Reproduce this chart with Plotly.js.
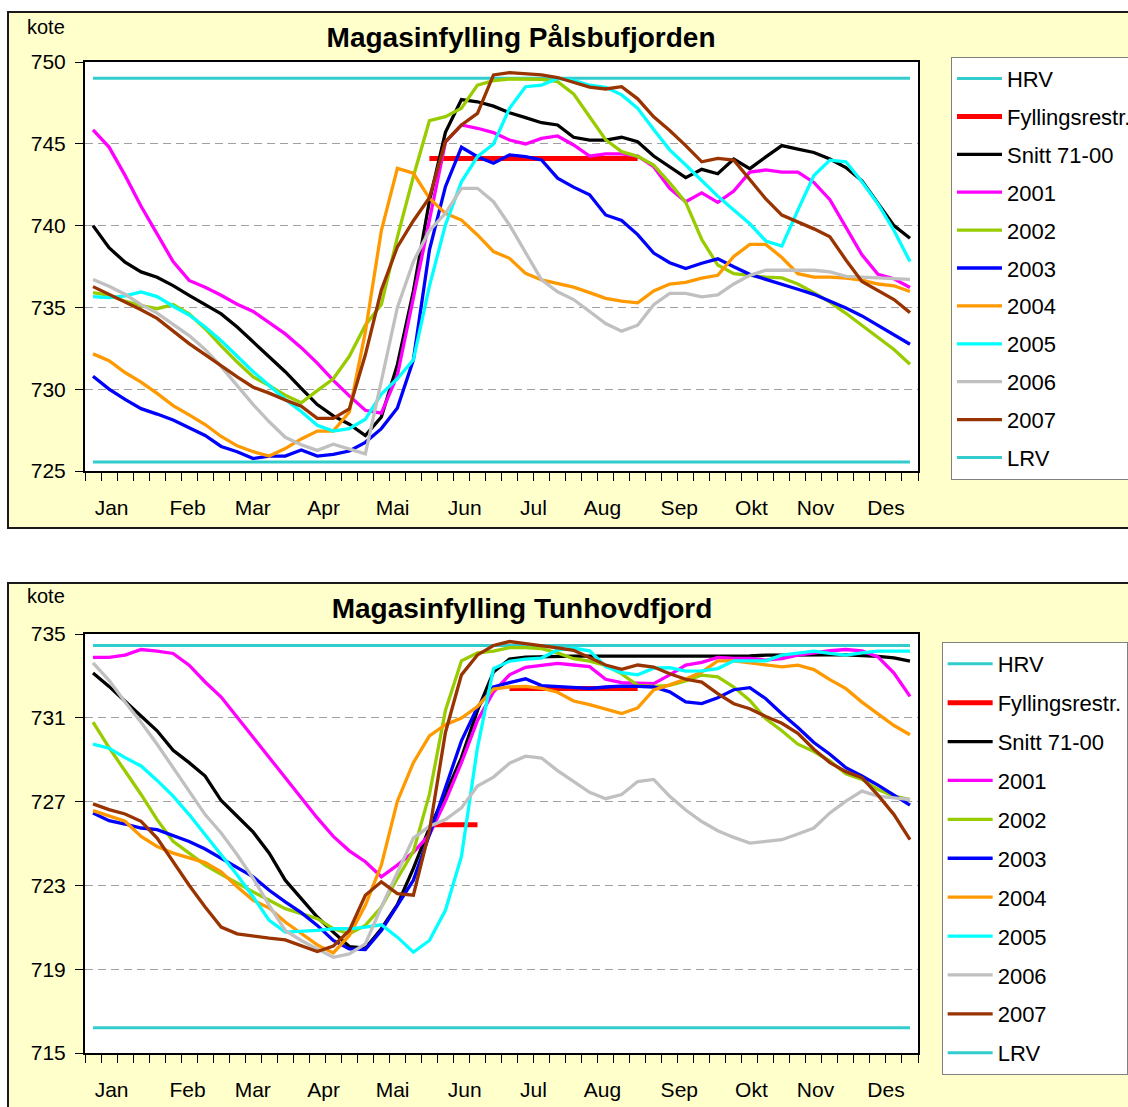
<!DOCTYPE html>
<html><head><meta charset="utf-8">
<script src="https://cdn.plot.ly/plotly-3.0.1.min.js"></script>
<style>
html,body{margin:0;padding:0;background:#fff;overflow:hidden;width:1128px;height:1107px;}
.box{position:absolute;left:7px;width:1200px;border:2px solid #1a1a1a;background:#FFFFCC;}
#c1{top:11px;height:514px;}
#c2{top:582px;height:530px;}
</style></head><body>
<div id="c1" class="box"></div>
<div id="c2" class="box"></div>
<script>
// ---------- shared ----------
const weeks = [1,2,3,4,5,6,7,8,9,10,11,12,13,14,15,16,17,18,19,20,21,22,23,24,25,26,
  27,28,29,30,31,32,33,34,35,36,37,38,39,40,41,42,43,44,45,46,47,48,49,50,51,52];
const monthNames = ['Jan','Feb','Mar','Apr','Mai','Jun','Jul','Aug','Sep','Okt','Nov','Des'];
const monthPos = [2.16, 6.9, 10.97, 15.4, 19.7, 24.2, 28.5, 32.8, 37.6, 42.1, 46.1, 50.5];
const seriesNames = ['HRV','Fyllingsrestr.','Snitt 71-00','2001','2002','2003','2004','2005','2006','2007','LRV'];
const seriesColors = ['#33CCCC','#FF0000','#000000','#FF00FF','#99CC00','#0000FF','#FF9900','#00FFFF','#C0C0C0','#993300','#33CCCC'];

// ---------- Pålsbufjorden ----------
const hrv1 = 749.0, lrv1 = 725.55;
const fyllWeeks1 = [22, 35];
const fyllLevel1 = [744.1, 744.1];
const snitt1 = [740.0,738.65,737.76,737.17,736.84,736.33,735.74,735.19,734.6,733.8,732.9,731.99,731.07,730.05,729.06,728.37,727.86,727.17,728.3,731.5,736.0,741.5,745.7,747.7,747.57,747.3,
  746.9,746.6,746.29,746.15,745.4,745.23,745.23,745.4,745.13,744.25,743.6,742.93,743.44,743.17,744.07,743.48,744.2,744.89,744.68,744.47,744.07,743.55,742.74,741.38,740.0,739.23];
const p2001 = [745.85,744.8,743.07,741.18,739.49,737.8,736.65,736.23,735.74,735.19,734.75,734.06,733.38,732.54,731.59,730.54,729.59,728.71,728.54,730.85,735.49,740.33,745.1,746.15,745.95,745.68,
  745.23,744.99,745.33,745.48,744.93,744.25,744.38,744.38,744.25,743.6,742.28,741.46,742.0,741.42,742.11,743.27,743.4,743.27,743.27,742.64,741.58,739.9,738.22,737.02,736.75,736.22];
const p2002 = [735.91,735.74,735.38,735.11,734.92,735.17,734.6,733.7,732.65,731.66,730.75,730.22,729.63,729.17,729.91,730.64,732.01,733.91,735.17,739.3,743.0,746.41,746.66,747.17,748.59,748.86,
  748.96,748.96,748.94,748.8,748.05,746.65,745.25,744.52,744.23,743.7,742.62,741.42,739.15,737.59,737.06,736.96,736.85,736.8,736.43,735.9,735.32,734.64,733.9,733.17,732.43,731.53];
const p2003 = [730.79,730.01,729.38,728.81,728.48,728.12,727.65,727.17,726.5,726.18,725.76,725.91,725.91,726.28,725.91,726.01,726.22,726.75,727.59,728.85,731.8,738.5,742.38,744.79,744.21,743.81,
  744.32,744.21,744.01,742.9,742.35,741.88,740.65,740.31,739.45,738.32,737.73,737.38,737.7,737.97,737.48,737.02,736.71,736.43,736.11,735.8,735.38,734.96,734.48,733.91,733.34,732.75];
const p2004 = [732.16,731.74,731.02,730.43,729.74,729.0,728.43,727.84,727.11,726.54,726.18,725.91,726.37,726.96,727.44,727.44,728.6,733.5,739.7,743.5,743.2,741.67,740.75,740.34,739.43,738.41,
  738.0,737.08,736.68,736.45,736.24,735.9,735.55,735.38,735.28,736.01,736.43,736.53,736.79,736.96,738.11,738.85,738.85,738.05,737.06,736.85,736.85,736.79,736.67,736.43,736.32,735.97];
const p2005 = [735.66,735.6,735.7,735.95,735.66,735.07,734.54,733.8,732.96,732.01,731.07,730.22,729.38,728.64,727.8,727.44,727.59,728.16,729.7,730.64,731.8,736.3,740.04,742.68,744.21,744.99,
  747.17,748.49,748.59,749.0,748.87,748.58,748.45,747.99,747.17,745.87,744.63,743.7,742.76,741.8,740.95,740.11,739.06,738.75,740.95,743.06,744.0,743.9,742.68,741.33,739.7,737.8];
const p2006 = [736.71,736.29,735.8,735.17,734.65,733.97,733.28,732.43,731.38,730.22,729.06,728.01,727.06,726.6,726.26,726.64,726.33,726.05,730.5,735.0,737.8,739.7,740.75,742.28,742.28,741.46,
  740.04,738.31,736.68,735.95,735.48,734.75,734.01,733.55,733.91,735.17,735.86,735.86,735.65,735.76,736.43,736.96,737.27,737.27,737.27,737.27,737.17,736.9,736.85,736.8,736.75,736.71];
const p2007 = [736.27,735.8,735.28,734.86,734.33,733.59,732.79,732.12,731.42,730.75,730.12,729.76,729.34,728.96,728.22,728.22,728.79,732.1,736.06,738.7,740.3,741.7,745.13,746.15,746.86,749.21,
  749.35,749.3,749.21,749.05,748.77,748.46,748.35,748.49,747.75,746.65,745.81,744.89,743.9,744.11,744.0,742.85,741.63,740.64,740.22,739.8,739.32,737.9,736.58,736.01,735.48,734.68];

// ---------- Tunhovdfjord ----------
const hrv2 = 734.45, lrv2 = 716.2;
const fyllWeeks2 = [22, 25, null, 27, 35];
const fyllLevel2 = [725.9, 725.9, null, 732.4, 732.4];
const snitt2 = [733.14,732.5,731.79,731.11,730.38,729.45,728.86,728.22,727.05,726.3,725.54,724.54,723.25,722.37,721.49,720.77,720.08,720.0,720.93,722.08,723.81,725.74,727.34,729.1,731.35,733.19,
  733.8,733.9,733.92,733.94,733.94,733.94,733.94,733.94,733.94,733.94,733.94,733.94,733.94,733.94,733.94,733.95,733.99,734.0,734.0,734.0,734.0,734.0,733.98,733.93,733.86,733.7];
const t2001 = [733.88,733.88,733.99,734.26,734.18,734.07,733.51,732.71,731.99,731.03,730.06,729.1,728.14,727.18,726.22,725.34,724.65,724.13,723.41,723.97,724.58,725.42,727.02,728.86,730.87,732.23,
  733.05,733.41,733.5,733.6,733.52,733.44,732.84,732.68,732.65,732.63,733.05,733.52,733.65,733.88,733.83,733.83,733.75,733.83,733.99,734.1,734.2,734.26,734.2,733.91,733.14,732.02];
const t2002 = [730.79,729.58,728.46,727.34,726.14,725.1,724.54,723.97,723.53,723.09,722.69,722.29,721.89,721.65,721.41,720.93,720.69,721.09,721.97,723.33,724.62,727.34,731.35,733.72,734.1,734.18,
  734.35,734.35,734.3,734.1,733.82,733.7,733.5,733.1,732.55,732.5,732.55,732.76,733.04,732.95,732.47,731.83,730.95,730.38,729.74,729.39,728.94,728.33,728.06,727.58,727.26,727.1];
const t2003 = [726.46,726.09,725.93,725.74,725.66,725.38,725.1,724.74,724.29,723.85,723.41,722.77,722.21,721.7,721.09,720.37,719.97,719.94,720.85,722.05,723.25,725.42,727.66,729.9,731.51,732.47,
  732.68,732.86,732.54,732.5,732.47,732.4,732.47,732.51,732.5,732.47,732.24,731.76,731.68,731.96,732.34,732.44,731.91,731.19,730.54,729.82,729.26,728.62,728.22,727.79,727.31,726.83];
const t2004 = [726.57,726.3,726.06,725.34,724.86,724.54,724.33,724.09,723.65,722.93,722.29,721.92,721.25,720.69,720.16,719.78,720.61,722.05,723.97,727.02,728.86,730.14,730.67,730.99,731.54,732.37,
  732.48,732.5,732.41,732.22,731.8,731.63,731.43,731.2,731.47,732.33,732.57,732.85,733.18,733.72,733.72,733.62,733.51,733.43,733.51,733.3,732.82,732.39,731.75,731.19,730.63,730.19];
const t2005 = [729.74,729.55,729.1,728.7,728.01,727.26,726.38,725.42,724.46,723.5,722.45,721.33,720.77,720.8,720.85,720.93,720.93,721.01,721.12,720.53,719.81,720.37,721.81,724.38,729.58,733.35,
  733.7,733.8,733.85,734.24,734.32,734.2,733.45,733.15,733.05,733.37,733.39,733.23,733.24,733.35,733.72,733.72,733.72,733.99,734.1,734.18,734.07,733.99,734.1,734.18,734.18,734.18];
const t2006 = [733.62,732.79,731.75,730.79,729.74,728.62,727.47,726.38,725.5,724.46,723.33,722.05,720.85,720.37,719.97,719.57,719.73,720.21,721.97,723.65,725.26,725.82,726.14,726.7,727.74,728.17,
  728.83,729.17,729.08,728.48,727.94,727.44,727.14,727.34,727.96,728.06,727.25,726.6,726.05,725.61,725.29,725.02,725.1,725.18,725.45,725.74,726.46,727.02,727.5,727.26,727.18,727.1];
const t2007 = [726.89,726.62,726.41,726.06,725.26,724.13,723.01,721.97,721.01,720.69,720.58,720.48,720.4,720.13,719.84,720.1,720.85,722.53,723.17,722.61,722.53,725.6,730.3,733.05,734.0,734.45,
  734.64,734.54,734.45,734.34,734.22,733.86,733.52,733.31,733.52,733.42,733.1,732.84,732.7,732.15,731.67,731.43,731.06,730.74,730.26,729.5,728.86,728.43,728.14,727.31,726.38,725.18];

function buildTraces(hrv, lrv, fw, fl, series) {
  const t = [];
  const mk = (i, x, y, w) => ({
    type:'scatter', mode:'lines', x:x, y:y, name:seriesNames[i], legendgroup:'g'+i,
    line:{color:seriesColors[i], width:w}, hoverinfo:'skip'
  });
  t.push(mk(0, [weeks[0], weeks[51]], [hrv, hrv], 3));
  t.push(mk(1, fw, fl, 5));
  series.forEach((s, k) => t.push(mk(k + 2, weeks, s, 3.3)));
  t.push(mk(10, [weeks[0], weeks[51]], [lrv, lrv], 3));
  return t;
}

function buildLayout(o) {
  return {
    width:1200, height:o.h,
    margin:{l:76, r:291, t:o.t, b:o.b, autoexpand:false},
    paper_bgcolor:'#FFFFCC', plot_bgcolor:'#FFFFFF',
    font:{family:'Arial, "Liberation Sans", sans-serif', size:21, color:'#000'},
    title:{text:'<b>'+o.title+'</b>', font:{size:28, color:'#000'},
      xref:'container', yref:'container', x:o.tx, y:o.ty, xanchor:'center', yanchor:'middle'},
    showlegend:true,
    legend:{x:o.lx, y:o.ly, xanchor:'left', yanchor:'top', bgcolor:'#FFFFFF',
      bordercolor:'#808080', borderwidth:1, font:{size:22}, tracegroupgap:o.gap,
      traceorder:'grouped', itemwidth:45, maxheight:600},
    xaxis:{range:[0.5,52.5], tickmode:'array', tickvals:monthPos, ticktext:monthNames,
      ticks:'', showgrid:false, zeroline:false, showline:true, mirror:true,
      linecolor:'#000', linewidth:2, ticklabelstandoff:17,
      minor:{tickmode:'linear', tick0:0.5, dtick:1, ticks:'outside', ticklen:8,
        tickcolor:'#000', tickwidth:1, showgrid:false}},
    yaxis:{range:o.yr, tickmode:'linear', tick0:o.yr[0], dtick:o.dy, ticks:'outside',
      ticklen:8, tickcolor:'#000', showgrid:true, gridcolor:'#A0A0A0', griddash:'8px,5px',
      gridwidth:1, zeroline:false, showline:true, mirror:true, linecolor:'#000', linewidth:2,
      ticklabelstandoff:5},
    annotations:[{text:'kote', xref:'paper', yref:'paper', x:-0.0468, y:o.ky,
      xanchor:'center', yanchor:'middle', showarrow:false, font:{size:20}}]
  };
}

const cfg = {staticPlot:true, displayModeBar:false};

Plotly.newPlot('c1',
  buildTraces(hrv1, lrv1, fyllWeeks1, fyllLevel1, [snitt1,p2001,p2002,p2003,p2004,p2005,p2006,p2007]),
  buildLayout({h:514, t:49, b:56, title:'Magasinfylling Pålsbufjorden', tx:0.4267, ty:0.9533,
    lx:1.0396, ly:1.013, gap:6.3, yr:[725,750], dy:5, ky:1.0856}), cfg);

Plotly.newPlot('c2',
  buildTraces(hrv2, lrv2, fyllWeeks2, fyllLevel2, [snitt2,t2001,t2002,t2003,t2004,t2005,t2006,t2007]),
  buildLayout({h:530, t:50, b:61, title:'Magasinfylling Tunhovdfjord', tx:0.4275, ty:0.9547,
    lx:1.0284, ly:0.981, gap:7.3, yr:[715,735], dy:4, ky:1.0897}), cfg);
</script>
</body></html>
